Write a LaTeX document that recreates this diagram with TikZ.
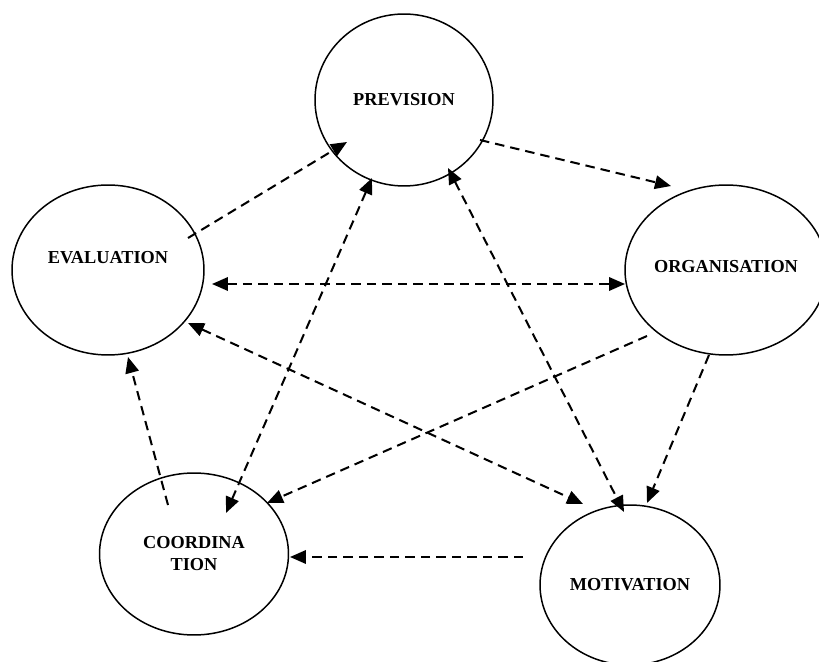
\documentclass[tikz,border=0pt]{standalone}
\usepackage{fontspec}
\setmainfont{Liberation Serif}
\usetikzlibrary{shapes.geometric,arrows.meta,calc}
\begin{document}
\begin{tikzpicture}[x=0.02cm,y=-0.02cm,
  phase/.style={draw,ellipse,line width=0.85pt,inner sep=0pt},
  stagetext/.style={font=\bfseries\fontsize{10.4}{12.5}\selectfont,align=center},
  flow/.style={dash pattern=on 0.19cm off 0.12cm,line width=1.15pt,-{Triangle[length=0.32cm,width=0.27cm]}},
  twoway/.style={flow,{Triangle[length=0.32cm,width=0.27cm]}-{Triangle[length=0.32cm,width=0.27cm]}}]
\useasboundingbox (0,0) rectangle (819,662);

\node[phase,minimum width=3.56cm,minimum height=3.44cm,label={[stagetext]center:PREVISION}] (prev) at (404,100) {};
\node[phase,minimum width=3.84cm,minimum height=3.40cm,label={[stagetext,yshift=0.24cm]center:EVALUATION}] (eval) at (108,270) {};
\node[phase,minimum width=4.04cm,minimum height=3.40cm,label={[stagetext,yshift=0.06cm]center:ORGANISATION}] (org) at (726,270) {};
\node[phase,minimum width=3.78cm,minimum height=3.24cm,label={[stagetext]center:COORDINA\\TION}] (coord) at (194,554) {};
\node[phase,minimum width=3.60cm,minimum height=3.20cm,label={[stagetext]center:MOTIVATION}] (mot) at (630,585) {};

\draw[flow] ($(eval)+(80,-32)$) -- ($(prev)+(-57,42)$);
\draw[flow] ($(prev)+(76,40)$) -- ($(org)+(-55,-84)$);
\draw[twoway] ($(eval)+(104,14)$) -- ($(org)+(-101,14)$);
\draw[twoway] ($(eval)+(80,53)$) -- ($(mot)+(-47,-81)$);
\draw[twoway] ($(prev)+(-32,78)$) -- ($(coord)+(32,-41)$);
\draw[twoway] ($(prev)+(44,68)$) -- ($(mot)+(-6,-73)$);
\draw[flow] ($(org)+(-79,66)$) -- ($(coord)+(73,-51)$);
\draw[flow] ($(org)+(-17,85)$) -- ($(mot)+(17,-82)$);
\draw[flow] ($(mot)+(-107,-28)$) -- ($(coord)+(96,3)$);
\draw[flow] ($(coord)+(-26,-49)$) -- ($(eval)+(20,87)$);
\end{tikzpicture}
\end{document}
